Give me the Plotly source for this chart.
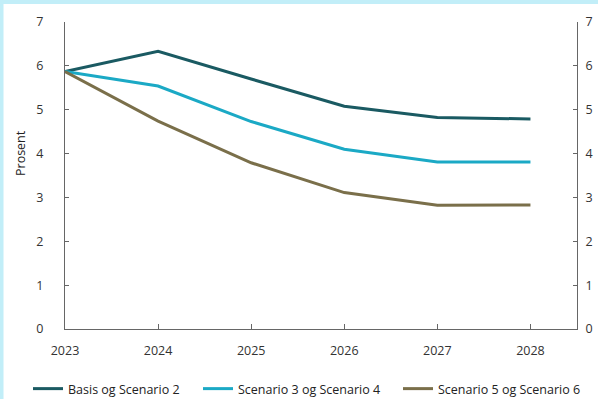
import plotly.graph_objects as go

# Years and the three policy-rate paths (per cent)
years = [2023, 2024, 2025, 2026, 2027, 2028]
basis = [5.87, 6.33, 5.70, 5.08, 4.82, 4.79]
scen34 = [5.87, 5.54, 4.73, 4.10, 3.81, 3.81]
scen56 = [5.87, 4.74, 3.79, 3.11, 2.82, 2.83]

names = ["Basis og Scenario 2", "Scenario 3 og Scenario 4", "Scenario 5 og Scenario 6"]
colors = ["#1a5a62", "#1ba9c5", "#7a6f4a"]
series = [basis, scen34, scen56]

y_ticks = [0, 1, 2, 3, 4, 5, 6, 7]

W, H = 598, 399
L, R, T, B = 65, 21, 22, 70
pw, ph = W - L - R, H - T - B

fig = go.Figure()
legend_x = [28, 198, 398]
for i, (nm, col, vals) in enumerate(zip(names, colors, series)):
    fig.add_trace(go.Scatter(
        x=years, y=vals, name=nm, mode="lines",
        line=dict(color=col, width=3),
        legend="legend" if i == 0 else f"legend{i+1}",
    ))

# invisible trace so the right-hand axis is drawn
fig.add_trace(go.Scatter(x=[years[0]], y=[0], yaxis="y2", showlegend=False,
                         mode="markers", marker=dict(opacity=0), hoverinfo="skip"))

axis_font = dict(family="Open Sans", size=12.5, color="#333333")
common_y = dict(range=[0, 7], tickvals=y_ticks, showline=True, linecolor="#666666",
                linewidth=1, ticks="inside", ticklen=4, tickcolor="#666666",
                showgrid=False, zeroline=False, tickfont=axis_font)

def px_to_paper_x(p):
    return (p - L) / pw

def px_to_paper_y(p):
    return (H - B - p) / ph

legend_common = dict(orientation="h", xanchor="left", yanchor="middle",
                     font=dict(family="Open Sans", size=12.5, color="#222222"),
                     bgcolor="rgba(0,0,0,0)", borderwidth=0,
                     y=px_to_paper_y(389), yref="paper")

layout = dict(
    width=W, height=H,
    margin=dict(l=L, r=R, t=T, b=B, autoexpand=False),
    paper_bgcolor="white", plot_bgcolor="white",
    showlegend=True,
    xaxis=dict(range=[2023, 2028.5], tickvals=years, showline=True,
               linecolor="#666666", linewidth=1, ticks="inside", ticklen=5,
               tickcolor="#666666", showgrid=False, zeroline=False,
               tickfont=axis_font, ticklabelstandoff=10),
    yaxis=dict(**common_y, side="left", ticklabelstandoff=18),
    yaxis2=dict(**common_y, side="right", overlaying="y", anchor="x",
                ticklabelstandoff=5),
    annotations=[dict(text="Prosent", textangle=-90, x=px_to_paper_x(20),
                      y=px_to_paper_y(153), xref="paper", yref="paper",
                      xanchor="center", yanchor="middle",
                      showarrow=False, font=dict(family="Open Sans", size=12.5,
                                                 color="#222222"))],
    shapes=[
        dict(type="rect", xref="paper", yref="paper", layer="above",
             x0=px_to_paper_x(0), x1=px_to_paper_x(W), y0=px_to_paper_y(4),
             y1=px_to_paper_y(0), fillcolor="#c2eef8", line=dict(width=0)),
        dict(type="rect", xref="paper", yref="paper", layer="above",
             x0=px_to_paper_x(0), x1=px_to_paper_x(3.5), y0=px_to_paper_y(H),
             y1=px_to_paper_y(0), fillcolor="#c2eef8", line=dict(width=0)),
    ],
)
for i in range(3):
    key = "legend" if i == 0 else f"legend{i+1}"
    layout[key] = dict(**legend_common, x=px_to_paper_x(legend_x[i]), xref="paper")

fig.update_layout(**layout)
fig.write_html("out.html")
